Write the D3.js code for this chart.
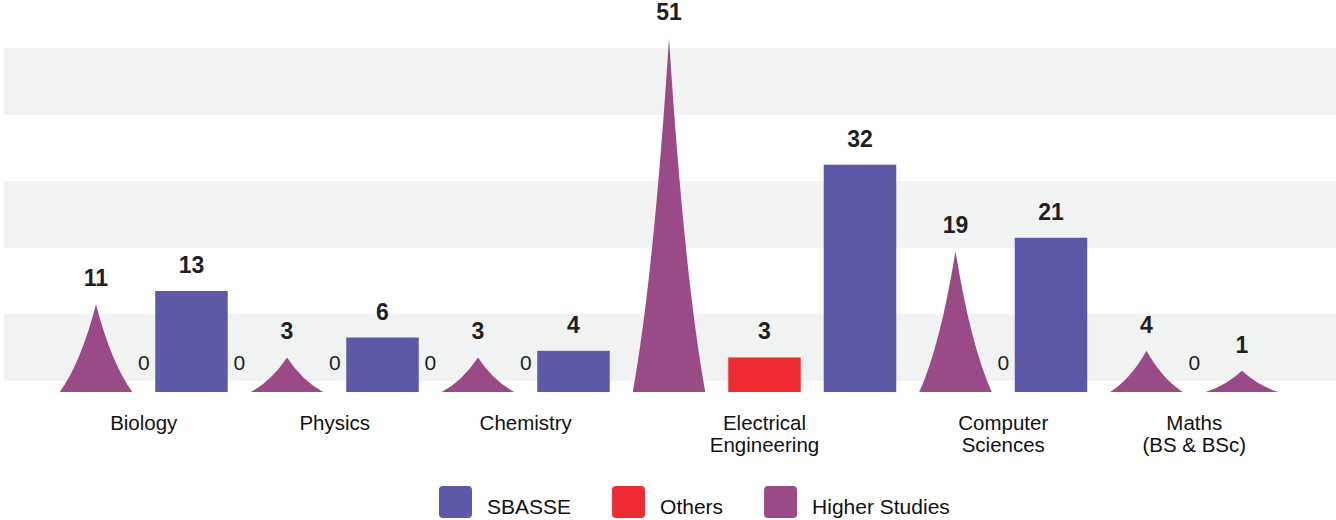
<!DOCTYPE html>
<html>
<head>
<meta charset="utf-8">
<script src="https://cdnjs.cloudflare.com/ajax/libs/d3/7.8.5/d3.min.js"></script>
<style>
    body { margin: 0; background: #fff; }
    svg { display: block; font-family: "Liberation Sans", Arial, Helvetica, sans-serif; }
</style>
</head>
<body>
<div id="chart"></div>
<script>
// Data
const series = ["SBASSE", "Others", "Higher Studies"];
const seriesColor = ["#5d59a6", "#ee2a33", "#9b4a88"];
const seriesShape = ["bar", "bar", "spike"];

const categoryLines = [["Biology"], ["Physics"], ["Chemistry"], ["Electrical", "Engineering"], ["Computer", "Sciences"], ["Maths", "(BS & BSc)"]];
const categorySlot = [1, 5, 9, 14, 19, 23];

// every mark in left-to-right order, on a slot axis
const markSlot = [0, 1, 2, 3, 4, 5, 6, 7, 8, 9, 10, 12, 14, 16, 18, 19, 20, 22, 23, 24];
const markValue = [11, 0, 13, 0, 3, 0, 6, 0, 3, 0, 4, 51, 3, 32, 19, 0, 21, 4, 0, 1];
const markSeries = ["Higher Studies", "Others", "SBASSE", "Others", "Higher Studies", "Others", "SBASSE",
    "Others", "Higher Studies", "Others", "SBASSE", "Higher Studies", "Others", "SBASSE",
    "Higher Studies", "Others", "SBASSE", "Higher Studies", "Others", "Higher Studies"];

// background bands, in value units
const stripeBands = [[-0.5, 9.5], [19.5, 29.5], [39.5, 49.5]];

// Layout
const width = 1336, height = 520;
const markWidth = 72.5;

const x = d3.scaleLinear().domain([0, 24]).range([96, 1242]);
const y = d3.scaleLinear().domain([0, 50]).range([377.4, 45]);
const baseY = y(-2.2); // marks start a little below zero
const color = d3.scaleOrdinal().domain(series).range(seriesColor);
const shape = d3.scaleOrdinal().domain(series).range(seriesShape);

const marks = markSlot.map((s, i) => ({ slot: s, value: markValue[i], series: markSeries[i] }));

const svg = d3.select('#chart')
    .append('svg')
    .attr('width', width)
    .attr('height', height);

// Stripes
svg.append('g')
    .selectAll('rect')
    .data(stripeBands)
    .join('rect')
    .attr('x', 4)
    .attr('width', width - 4)
    .attr('y', d => y(d[1]))
    .attr('height', d => y(d[0]) - y(d[1]))
    .attr('fill', '#f1f2f2');

// Spike path with concave sides
function spikePath(cx, top) {
    const hw = markWidth / 2;
    const h = baseY - top;
    const p = d3.path();
    p.moveTo(cx - hw, baseY);
    p.quadraticCurveTo(cx - hw * 0.42, baseY - h * 0.33, cx, top);
    p.quadraticCurveTo(cx + hw * 0.42, baseY - h * 0.33, cx + hw, baseY);
    p.closePath();
    return p.toString();
}

const drawn = marks.filter(d => d.value > 0);

svg.append('g')
    .selectAll('rect')
    .data(drawn.filter(d => shape(d.series) === 'bar'))
    .join('rect')
    .attr('x', d => x(d.slot) - markWidth / 2)
    .attr('y', d => y(d.value))
    .attr('width', markWidth)
    .attr('height', d => baseY - y(d.value))
    .attr('fill', d => color(d.series));

svg.append('g')
    .selectAll('path')
    .data(drawn.filter(d => shape(d.series) === 'spike'))
    .join('path')
    .attr('d', d => spikePath(x(d.slot), y(d.value)))
    .attr('fill', d => color(d.series));

// Value labels
svg.append('g')
    .selectAll('text')
    .data(marks)
    .join('text')
    .attr('x', d => x(d.slot))
    .attr('y', d => d.value > 0 ? y(d.value) - 18 : y(0) - 7)
    .attr('text-anchor', 'middle')
    .attr('fill', '#231f20')
    .style('font-size', d => d.value > 0 ? '23px' : '21px')
    .style('font-weight', d => d.value > 0 ? 'bold' : 'normal')
    .text(d => d.value);

// Category labels
const cat = svg.append('g')
    .selectAll('text')
    .data(categoryLines)
    .join('text')
    .attr('text-anchor', 'middle')
    .attr('fill', '#111')
    .style('font-size', '20.5px');

cat.selectAll('tspan')
    .data((d, i) => d.map(line => ({ line, i })))
    .join('tspan')
    .attr('x', d => x(categorySlot[d.i]))
    .attr('y', (d, j) => 429.5 + j * 22)
    .text(d => d.line);

// Legend
const legend = svg.append('g').attr('transform', 'translate(439,486)');
let lx = 0;
series.forEach(s => {
    legend.append('rect')
        .attr('x', lx)
        .attr('width', 33)
        .attr('height', 32)
        .attr('rx', 4)
        .attr('fill', color(s));
    const t = legend.append('text')
        .attr('x', lx + 48)
        .attr('y', 28)
        .attr('fill', '#111')
        .style('font-size', '21px')
        .text(s);
    lx += 48 + t.node().getComputedTextLength() + 41;
});
</script>
</body>
</html>
